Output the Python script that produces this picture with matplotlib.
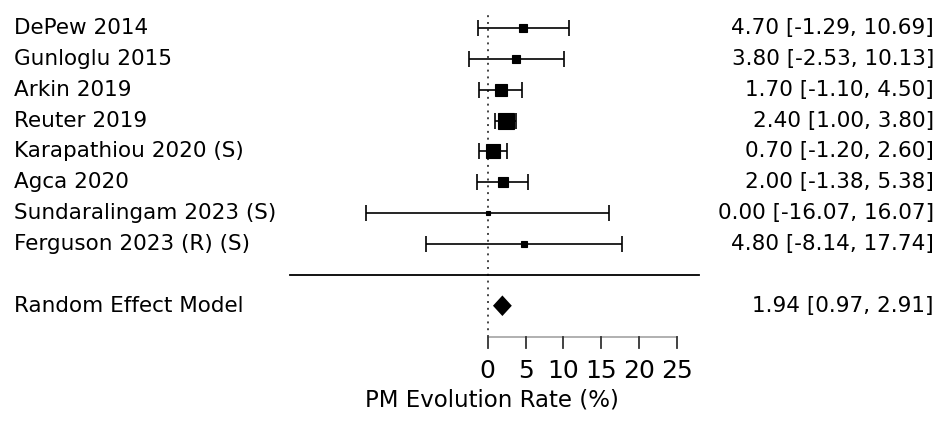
import numpy as np
import matplotlib
matplotlib.use("Agg")
import matplotlib.pyplot as plt

studies = ["DePew 2014", "Gunloglu 2015", "Arkin 2019", "Reuter 2019",
           "Karapathiou 2020 (S)", "Agca 2020", "Sundaralingam 2023 (S)",
           "Ferguson 2023 (R) (S)"]
est = [4.70, 3.80, 1.70, 2.40, 0.70, 2.00, 0.00, 4.80]
lo = [-1.29, -2.53, -1.10, 1.00, -1.20, -1.38, -16.07, -8.14]
hi = [10.69, 10.13, 4.50, 3.80, 2.60, 5.38, 16.07, 17.74]

model_label = "Random Effect Model"
model_est, model_lo, model_hi = 1.94, 0.97, 2.91

xticks = [0, 5, 10, 15, 20, 25]
xlabel = "PM Evolution Rate (%)"

# pixel layout: 0 at x=487.7 px, 7.57 px per unit; rows 30.86 px apart
px_per_unit = 7.57
x0_px = 487.7
W, H = 937, 423
row_px = 30.86
top_row_px = 28

fig = plt.figure(figsize=(W / 100, H / 100), dpi=100)
ax = fig.add_axes([0, 0, 1, 1])
ax.set_xlim(-x0_px / px_per_unit, (W - x0_px) / px_per_unit)
ax.set_ylim(11 - (H - top_row_px) / row_px, 11 + top_row_px / row_px)
ax.axis("off")

k = len(studies)
rows = np.arange(k + 3, 3, -1)  # 11 .. 4

# box sizes from random-effects weights (se from CI, tau^2 assumed 0.5)
se = (np.array(hi) - np.array(lo)) / (2 * 1.96)
w = 1 / (se ** 2 + 0.5)
side_px = 3.5 + 12 * np.sqrt(w / w.max())

left_x = (14 - x0_px) / px_per_unit
right_x = (934 - x0_px) / px_per_unit
fs = 15.5

# dotted reference line
ax.plot([0, 0], [1, 11.5], color="#444444", ls=(0, (1, 2.5)), lw=1.4)

for r, name, e, l, h, s in zip(rows, studies, est, lo, hi, side_px):
    ax.errorbar(e, r, xerr=[[e - l], [h - e]], fmt="none", ecolor="black",
                elinewidth=1.2, capsize=5.5, capthick=1.2)
    ax.plot(e, r, marker="s", color="black", ms=s * 0.72, mew=0.8)
    ax.text(left_x, r, name, ha="left", va="center", fontsize=fs)
    ax.text(right_x, r, f"{e:.2f} [{l:.2f}, {h:.2f}]", ha="right",
            va="center", fontsize=fs)

# separator
ax.plot([(290 - x0_px) / px_per_unit, (699 - x0_px) / px_per_unit], [3, 3],
        color="black", lw=1.3)

# summary diamond
dh = 0.26
ax.fill([model_lo, model_est, model_hi, model_est],
        [2, 2 + dh, 2, 2 - dh], color="black", lw=2.2, ec="black",
        joinstyle="miter")
ax.text(left_x, 2, model_label, ha="left", va="center", fontsize=fs)
ax.text(right_x, 2, f"{model_est:.2f} [{model_lo:.2f}, {model_hi:.2f}]",
        ha="right", va="center", fontsize=fs)

# x axis
ax.plot([xticks[0], xticks[-1]], [1, 1], color="#aaaaaa", lw=1.3)
for t in xticks:
    ax.plot([t, t], [1, 0.62], color="#333333", lw=1.3)
    ax.text(t, -0.1, str(t), ha="center", va="center", fontsize=18)
ax.text(0.5, -1.05, xlabel, ha="center", va="center", fontsize=16.5)

fig.savefig("out.png", dpi=100)
